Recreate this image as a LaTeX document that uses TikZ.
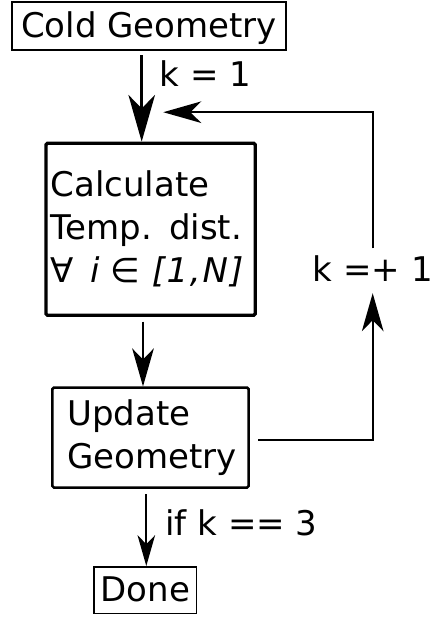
\documentclass[tikz,border=0pt]{standalone}
\usepackage{fontspec}
\setmainfont{DejaVu Sans}
\usetikzlibrary{arrows.meta, positioning, calc}

\begin{document}
\begin{tikzpicture}[
    x=1pt, y=-1pt,
    % --- node styles ---
    txt/.style={font=\fontsize{34pt}{43pt}\selectfont},
    endbox/.style={txt, rectangle, draw=black, inner sep=0pt,
        text height=26pt, text depth=2.5pt},
    procbox/.style={txt, rectangle, rounded corners=1.5pt, draw=black,
        align=left, inner sep=0pt},
    % --- arrow / label styles ---
    arr/.style={-{Stealth[length=0pt 19, width=0pt 10.8, inset=0pt 5.5]},
        line width=#1},
    arr/.default=2pt,
    lbl/.style={txt, inner sep=2pt}
]

\useasboundingbox (0,0) rectangle (433,619);

%%% ================= NODES =================
\node (cold) [endbox, line width=1.8pt, minimum width=274pt,
    minimum height=48.6pt] at (149,26) {Cold Geometry};

\node (calc) [procbox, line width=3.3pt, minimum width=209.3pt,
    minimum height=172pt, text width=200pt,
    below=90.45pt of cold, xshift=1.6pt]
    {Calculate\\Temp. dist.\\∀\kern5pt{} \textit{i} ∈
     \textit{[\kern1.5pt1\kern1.5pt,\kern2pt N\kern2pt]}};

\node (update) [procbox, line width=2.5pt, minimum width=196.4pt,
    minimum height=99.8pt, text width=166pt,
    below=69.5pt of calc, xshift=-0.1pt]
    {Update\\Geometry};

\node (done) [endbox, line width=1.7pt, minimum width=102.7pt,
    minimum height=46.7pt, below=77.25pt of update, xshift=-5.3pt] {Done};

%% loop label and return point
\node (kplus) [lbl] at (372.7,268.1) {k =+ 1};
\coordinate (back) at (163.3,112.2);

%%% ================= ARROWS =================
\draw [arr=2.46pt, shorten <=3.8pt]
    ([xshift=-7.3pt]cold.south) --
    node[lbl, right=15pt, pos=0.25] {k = 1}
    ([xshift=-7.3pt]cold.south |- calc.north);
\draw [arr=2pt, shorten <=4.7pt]
    ([xshift=-7.6pt]calc.south) -- ([xshift=-7.6pt]calc.south |- update.north);
\draw [arr=1.62pt, shorten <=5.6pt]
    ([xshift=-4.2pt]update.south) --
    node[lbl, right=16.2pt, pos=0.44] {if k == 3}
    ([xshift=-4.2pt]update.south |- done.north);

%% Return loop
\draw [arr=2pt, shorten <=8.4pt, shorten >=10pt]
    ([yshift=-2.4pt]update.east) -| (kplus.south);
\draw [arr=2pt, shorten <=4.7pt] (kplus.north) |- (back);

\end{tikzpicture}
\end{document}
